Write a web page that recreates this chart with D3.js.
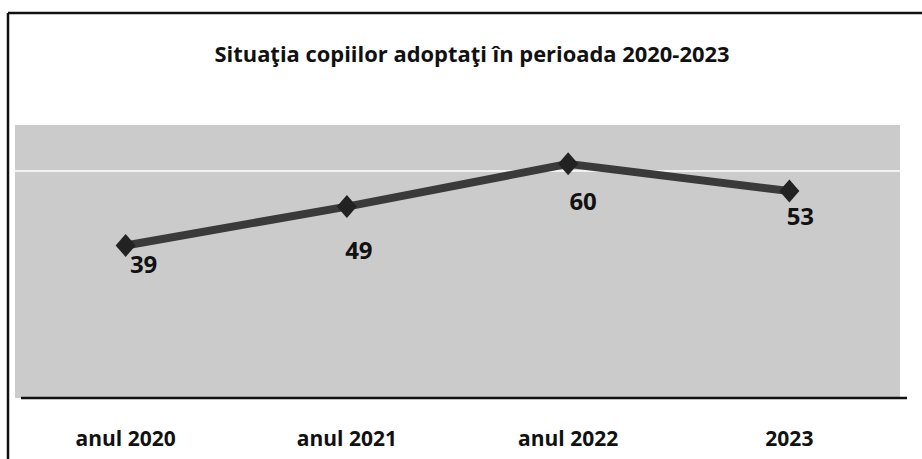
<!DOCTYPE html>
<html><head><meta charset="utf-8">
<script src="https://cdn.jsdelivr.net/npm/d3@7"></script>
<style>body{margin:0;background:#fff}svg{display:block}</style>
</head><body>
<svg id="c" width="922" height="459"></svg>
<script>
const categories = ["anul 2020", "anul 2021", "anul 2022", "2023"];
const values = [39, 49, 60, 53];
const title = "Situaţia copiilor adoptaţi în perioada 2020-2023";
const yDomain = [0, 70];

const svg = d3.select("#c");
const W = 922, H = 459;
const plot = {x0: 15, x1: 900, y0: 125, y1: 398};

// frame
svg.append("line").attr("x1", 8).attr("x2", W).attr("y1", 13).attr("y2", 13).attr("stroke", "#111").attr("stroke-width", 2.5);
svg.append("line").attr("x1", 8).attr("x2", 8).attr("y1", 13).attr("y2", H).attr("stroke", "#111").attr("stroke-width", 2.5);

svg.append("text").attr("x", 472).attr("y", 62).attr("text-anchor", "middle")
  .attr("font-family", "'Open Sans', sans-serif").attr("font-weight", "bold").attr("font-size", 21)
  .attr("textLength", 515).attr("lengthAdjust", "spacingAndGlyphs")
  .attr("fill", "#111").text(title);

const x = d3.scaleBand().domain(categories).range([plot.x0, plot.x1]);
const y = d3.scaleLinear().domain(yDomain).range([plot.y1 - 1, plot.y0]);

// plot background
svg.append("rect").attr("x", plot.x0).attr("y", plot.y0).attr("width", plot.x1 - plot.x0).attr("height", plot.y1 - plot.y0).attr("fill", "#cbcbcb");
svg.append("rect").attr("x", plot.x0).attr("y", 170).attr("width", plot.x1 - plot.x0).attr("height", 2).attr("fill", "#f2f2f2");

// axis
const xAxis = svg.append("g").attr("transform", `translate(0,${plot.y1})`)
  .call(d3.axisBottom(x).tickSize(0).tickPadding(33));
xAxis.select(".domain").attr("stroke", "#111").attr("stroke-width", 2.5).attr("d", `M${plot.x0 + 6},0H${plot.x1 + 7}`);
xAxis.selectAll("text").attr("font-family", "'Open Sans', sans-serif").attr("font-weight", "bold")
  .attr("font-size", 21).attr("fill", "#111");

const cx = d => x(d) + x.bandwidth() / 2;
const line = d3.line().x((d, i) => cx(categories[i])).y(d => y(d));
svg.append("path").datum(values).attr("d", line).attr("fill", "none")
  .attr("stroke", "#3a3a3a").attr("stroke-width", 8).attr("stroke-linejoin", "round");

const sym = d3.symbol().type(d3.symbolSquare).size(200);
svg.selectAll(".m").data(values).join("path").attr("class", "m")
  .attr("transform", (d, i) => `translate(${cx(categories[i])},${y(d)}) scale(1,1.15) rotate(45)`)
  .attr("d", sym).attr("fill", "#222");

const off = [[18, 28], [12, 52], [15, 46], [11, 34]];
svg.selectAll(".lbl").data(values).join("text").attr("class", "lbl")
  .attr("x", (d, i) => cx(categories[i]) + off[i][0])
  .attr("y", (d, i) => y(d) + off[i][1])
  .attr("text-anchor", "middle")
  .attr("font-family", "'Open Sans', sans-serif").attr("font-weight", "bold").attr("font-size", 24)
  .attr("fill", "#111").text(d => d);
</script>
</body></html>
